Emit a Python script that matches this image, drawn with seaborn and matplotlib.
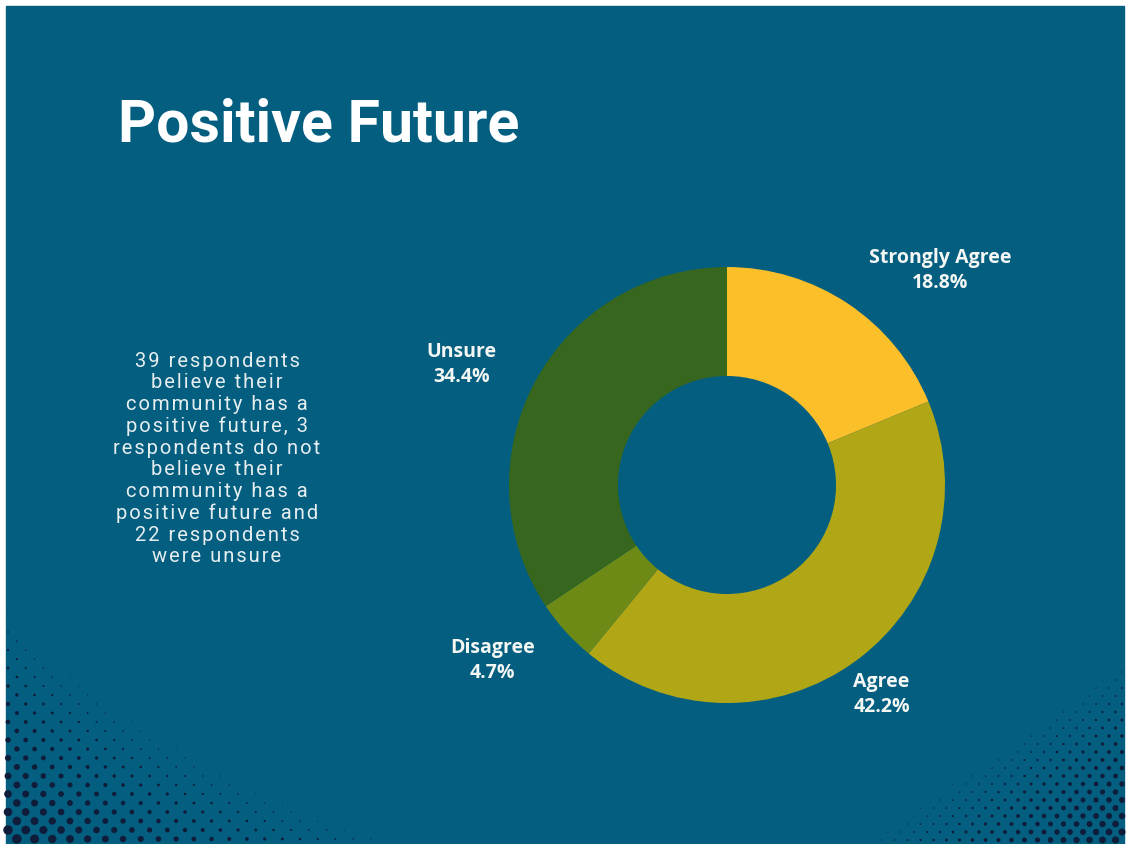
import numpy as np
import seaborn as sns
import matplotlib.pyplot as plt
from matplotlib.patches import Rectangle

# chart data
categories = ["Strongly Agree", "Agree", "Disagree", "Unsure"]
counts = [12, 27, 3, 22]
percent_labels = ["18.8%", "42.2%", "4.7%", "34.4%"]
slice_colors = ["#FBBF2A", "#B1A716", "#6E8A16", "#37661E"]

title_text = "Positive Future"
summary_lines = [
    "39 respondents", "believe their", "community has a", "positive future, 3",
    "respondents do not", "believe their", "community has a",
    "positive future and", "22 respondents", "were unsure",
]

# label placement around the ring (distance in radii, angle tweak in degrees)
label_dist = [1.39, 1.19, 1.34, 1.34]
label_shift = [-11, 0, -5.5, 3.5]

TEAL = "#035E80"
DOT = "#0F1D3A"
W, H = 1126, 845

sns.set_theme(style="white")
plt.rcParams['font.family'] = ['Open Sans', 'DejaVu Sans']
palette = sns.color_palette(slice_colors)

fig = plt.figure(figsize=(W / 100, H / 100), dpi=100, facecolor="white")

# background panel in pixel coordinates
bg = fig.add_axes([0, 0, 1, 1])
bg.set_xlim(0, W)
bg.set_ylim(H, 0)
bg.axis('off')
bg.add_patch(Rectangle((6, 7), W - 8, H - 6, color=TEAL, zorder=0))


def halftone(x0, sign, width, height, power, dmax, dx, dy):
    # staggered dot grid fading away from a bottom corner
    pts = []
    for i, y in enumerate(np.arange(H + 4, H - height - 10, -dy)):
        off = dx / 2 if i % 2 else 0
        for x in np.arange(x0 + off, x0 + sign * (width + 20), sign * dx):
            if not (6 <= x <= W - 2):
                continue
            t = (abs(x - x0) / width) ** power + ((H - y) / height) ** power
            d = dmax * (1 - t)
            if d > 0.9:
                pts.append((x, y, d))
    return np.array(pts)


for spec in [(8, 1, 440, 260, 0.8, 10.5, 17.7, 9.0),
             (W - 4, -1, 290, 205, 1.0, 7.5, 13.0, 8.0)]:
    p = halftone(*spec)
    bg.scatter(p[:, 0], p[:, 1], s=(p[:, 2] * 0.72) ** 2, color=DOT,
               linewidths=0, zorder=1)

# donut
cx, cy, r = 727, 486, 218
ax = fig.add_axes([(cx - r) / W, 1 - (cy + r) / H, 2 * r / W, 2 * r / H])
ax.set_facecolor("none")
wedges, _ = ax.pie(counts, colors=palette, startangle=90, counterclock=False,
                   radius=1, wedgeprops=dict(width=0.5, linewidth=0))
ax.set_xlim(-1, 1)
ax.set_ylim(-1, 1)
ax.set_aspect('equal')
ax.axis('off')

for w, name, pct, dist, shift in zip(wedges, categories, percent_labels,
                                     label_dist, label_shift):
    ang = np.deg2rad((w.theta1 + w.theta2) / 2 + shift)
    ax.text(dist * np.cos(ang), dist * np.sin(ang), f"{name}\n{pct}",
            ha='center', va='center', color="#F4F7F4", fontsize=14,
            fontweight='bold', linespacing=1.34, clip_on=False)

fig.text(118 / W, 1 - 142 / H, title_text, color="white", fontsize=42.5,
         fontweight='bold', family=['Roboto', 'DejaVu Sans'], va='baseline')

# letter-spaced summary (hair spaces between characters)
spaced = "\n".join("\u200a".join(line) for line in summary_lines)
fig.text(217 / W, 1 - 459 / H, spaced, color="#E6EEF0",
         fontsize=14.5, family=['Roboto', 'DejaVu Sans'], ha='center',
         va='center', multialignment='center', linespacing=1.17)

fig.savefig("out.png", dpi=100, facecolor=fig.get_facecolor())
